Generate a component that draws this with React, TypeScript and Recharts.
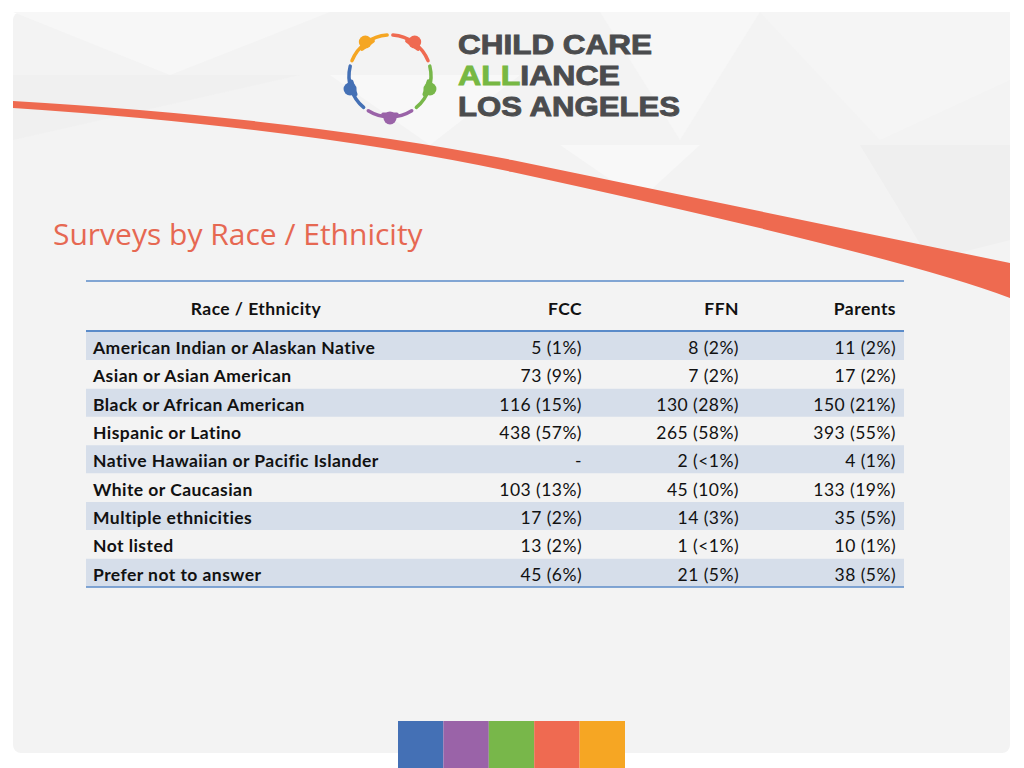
import React from "react";
import { BarChart, Bar, XAxis, YAxis, Cell, LabelList } from "recharts";

const headers = ["Race / Ethnicity", "FCC", "FFN", "Parents"];
const races = [
  "American Indian or Alaskan Native",
  "Asian or Asian American",
  "Black or African American",
  "Hispanic or Latino",
  "Native Hawaiian or Pacific Islander",
  "White or Caucasian",
  "Multiple ethnicities",
  "Not listed",
  "Prefer not to answer",
];
const fcc = ["5 (1%)", "73 (9%)", "116 (15%)", "438 (57%)", "-", "103 (13%)", "17 (2%)", "13 (2%)", "45 (6%)"];
const ffn = ["8 (2%)", "7 (2%)", "130 (28%)", "265 (58%)", "2 (<1%)", "45 (10%)", "14 (3%)", "1 (<1%)", "21 (5%)"];
const parents = ["11 (2%)", "17 (2%)", "150 (21%)", "393 (55%)", "4 (1%)", "133 (19%)", "35 (5%)", "10 (1%)", "38 (5%)"];
const footerColors = ["#4470b5", "#9a63a8", "#78b74a", "#ef6a51", "#f6a623"];

const rows = races.map((race, i) => ({
  race,
  fcc: fcc[i],
  ffn: ffn[i],
  parents: parents[i],
  band: 1,
}));

const FONT = "Lato, 'Open Sans', sans-serif";
const LOGO_FONT = "'Liberation Sans', Arial, sans-serif";
const FS = 17.5;
const LS = 0.45;
const TABLE_LEFT = 86;
const TABLE_TOP = 281;
const TABLE_W = 818;
const HEADER_H = 50;
const TABLE_H = 306;

// cell renderer: x offset inside the row band, anchor
const cell = (dx: number, anchor: "start" | "end") => (props: any) => {
  const vb = props.viewBox ?? props;
  const x = (vb.x ?? props.x) as number;
  const y = (vb.y ?? props.y) as number;
  const h = (vb.height ?? props.height) as number;
  return (
    <text
      x={x + dx}
      y={y + h / 2 + 8}
      textAnchor={anchor}
      fontFamily={FONT}
      fontSize={FS}
      letterSpacing={LS}
      fontWeight={anchor === "start" ? 700 : 400}
      fill="#111"
    >
      {props.value}
    </text>
  );
};

function Logo() {
  const cx = 390;
  const cy = 76;
  const r = 41;
  const figs = [
    { a: -126, c: "#f5a623" },
    { a: -54, c: "#ef6a51" },
    { a: 18, c: "#78b74a" },
    { a: 90, c: "#9a63a8" },
    { a: 162, c: "#4470b5" },
  ];
  const pt = (deg: number, rad: number) => {
    const t = (deg * Math.PI) / 180;
    return [cx + rad * Math.cos(t), cy + rad * Math.sin(t)];
  };
  const logoText = { fontFamily: LOGO_FONT, fontWeight: 700, fontSize: 27, fill: "#4b4c4e", stroke: "#4b4c4e", strokeWidth: 0.9 };
  return (
    <g>
      {figs.map((f) => {
        const [x1, y1] = pt(f.a - 32, r);
        const [x2, y2] = pt(f.a + 32, r);
        const [bx1, by1] = pt(f.a - 10, r - 2);
        const [bx2, by2] = pt(f.a + 10, r - 2);
        const [hx, hy] = pt(f.a, r + 1);
        return (
          <g key={f.c}>
            <path d={`M${x1},${y1} A${r},${r} 0 0 1 ${x2},${y2}`} stroke={f.c} strokeWidth={3.5} fill="none" strokeLinecap="round" />
            <path d={`M${bx1},${by1} L${hx},${hy} L${bx2},${by2} Z`} fill={f.c} stroke={f.c} strokeWidth={4} strokeLinejoin="round" />
            <circle cx={hx} cy={hy} r={6.5} fill={f.c} />
          </g>
        );
      })}
      <text x={458} y={54} {...logoText} textLength={194} lengthAdjust="spacingAndGlyphs">CHILD CARE</text>
      <text x={458} y={85} {...logoText} textLength={162} lengthAdjust="spacingAndGlyphs">
        <tspan fill="#77b843" stroke="#77b843">ALL</tspan>IANCE
      </text>
      <text x={458} y={116} {...logoText} textLength={222} lengthAdjust="spacingAndGlyphs">LOS ANGELES</text>
    </g>
  );
}

export default function App() {
  const headText = (x: number, anchor: "middle" | "end", label: string) => (
    <text x={x} y={315} textAnchor={anchor} fontFamily={FONT} fontWeight={700} fontSize={FS} letterSpacing={LS} fill="#111">
      {label}
    </text>
  );
  return (
    <div style={{ position: "absolute", left: 0, top: 0, width: 1024, height: 768, background: "#fff", overflow: "hidden" }}>
      <svg width={1024} height={768} style={{ position: "absolute", left: 0, top: 0 }}>
        <rect x={13} y={12} width={997} height={741} rx={8} fill="#f3f3f3" />
        {/* faint triangle pattern */}
        <polygon points="13,12 330,12 170,75" fill="#f7f7f7" />
        <polygon points="330,75 520,75 430,145" fill="#f8f8f8" />
        <polygon points="600,12 760,12 680,140" fill="#f7f7f7" />
        <polygon points="760,12 1010,12 1010,80 880,140" fill="#f5f5f5" />
        <polygon points="13,75 300,75 13,140" fill="#eeeeee" opacity={0.6} />
        <polygon points="860,145 1010,145 1010,240 930,260" fill="#ececec" opacity={0.7} />
        <polygon points="560,145 700,145 640,200" fill="#f8f8f8" />
        {/* swoosh */}
        <path d="M13,101 Q300,118 512,160 L1010,263 L1010,298 Q900,256 512,172 Q300,127 13,108 Z" fill="#ee6a50" />
        <Logo />
        <text x={53} y={245} fontFamily="'Open Sans', sans-serif" fontSize={30} fill="#e66852">Surveys by Race / Ethnicity</text>
        {/* table rules */}
        <line x1={TABLE_LEFT} x2={TABLE_LEFT + TABLE_W} y1={281} y2={281} stroke="#5b8bc9" strokeWidth={1.5} />
        <line x1={TABLE_LEFT} x2={TABLE_LEFT + TABLE_W} y1={331} y2={331} stroke="#5b8bc9" strokeWidth={2} />
        {/* header */}
        {headText(256, "middle", headers[0])}
        {headText(582, "end", headers[1])}
        {headText(739, "end", headers[2])}
        {headText(896, "end", headers[3])}
        {footerColors.map((c, i) => (
          <rect key={c} x={398 + i * 45.4} y={721} width={45.4} height={47} fill={c} />
        ))}
      </svg>
      <div style={{ position: "absolute", left: TABLE_LEFT, top: TABLE_TOP }}>
        <BarChart
          layout="vertical"
          width={TABLE_W}
          height={TABLE_H}
          data={rows}
          margin={{ top: HEADER_H + 1, right: 0, bottom: 0, left: 0 }}
          barCategoryGap={0}
        >
          <XAxis type="number" domain={[0, 1]} hide />
          <YAxis type="category" dataKey="race" hide />
          <Bar dataKey="band" isAnimationActive={false}>
            {rows.map((_, i) => (
              <Cell key={i} fill={i % 2 === 0 ? "#d6deea" : "rgba(255,255,255,0)"} />
            ))}
            <LabelList dataKey="race" content={cell(7, "start")} />
            <LabelList dataKey="fcc" content={cell(496, "end")} />
            <LabelList dataKey="ffn" content={cell(653, "end")} />
            <LabelList dataKey="parents" content={cell(810, "end")} />
          </Bar>
        </BarChart>
      </div>
      <svg width={1024} height={768} style={{ position: "absolute", left: 0, top: 0, pointerEvents: "none" }}>
        <line x1={TABLE_LEFT} x2={TABLE_LEFT + TABLE_W} y1={587} y2={587} stroke="#5b8bc9" strokeWidth={1.5} />
      </svg>
    </div>
  );
}
